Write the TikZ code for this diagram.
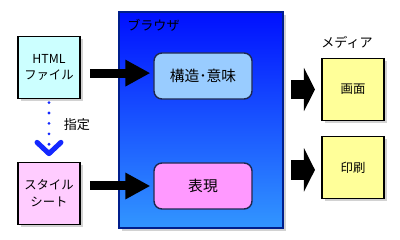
\documentclass[tikz,border=0pt]{standalone}
\usepackage{fontspec}
\setmainfont{Noto Sans CJK JP}
\usetikzlibrary{arrows.meta,shadows}
\definecolor{htmlFill}{RGB}{204,255,255}
\definecolor{cssFill}{RGB}{255,204,255}
\definecolor{mediaFill}{RGB}{255,255,153}
\definecolor{structFill}{RGB}{153,204,255}
\definecolor{viewFill}{RGB}{255,153,255}
\definecolor{panelTop}{RGB}{0,16,255}
\definecolor{panelBot}{RGB}{50,150,255}
\definecolor{panelEdge}{RGB}{0,30,140}
\definecolor{innerEdge}{RGB}{30,40,80}
\definecolor{dotBlue}{RGB}{20,40,255}

\begin{document}
\begin{tikzpicture}[x=0.025cm, y=-0.025cm,
    every node/.style={font=\fontsize{8.8}{12}\selectfont, text=black},
    srcbox/.style={draw=black, line width=1.4pt, rectangle,
                minimum width=1.55cm, minimum height=1.55cm,
                align=center, inner sep=1pt,
                drop shadow={shadow xshift=0.07cm, shadow yshift=-0.07cm, fill=black!35}},
    mediabox/.style={srcbox, fill=mediaFill},
    panel/.style={draw=panelEdge, line width=1.4pt, rectangle,
                minimum width=4.1cm, minimum height=5.4cm,
                top color=panelTop, bottom color=panelBot,
                drop shadow={shadow xshift=0.07cm, shadow yshift=-0.07cm, fill=black!35}},
    innerbox/.style={draw=innerEdge, line width=1pt, rectangle, rounded corners=0.2cm,
                minimum width=2.45cm, minimum height=1.15cm,
                font=\fontsize{10.5}{12}\selectfont},
    tag/.style={font=\fontsize{9.3}{11}\selectfont, inner sep=0pt},
    fatarrow/.style={line width=6.4pt, -{Triangle[length=17.7pt, width=17.7pt]},
                shorten <=6.4pt, shorten >=2.1pt},
    outarrow/.style={line width=14.2pt, -{Triangle[length=7.8pt, width=30.5pt]},
                shorten <=5pt, shorten >=4.3pt},
    dotarrow/.style={draw=dotBlue, line width=2.2pt, line cap=round,
                dash pattern=on 0pt off 7.4pt,
                -{Straight Barb[round, length=8pt, width=17pt, line width=3.6pt]},
                shorten <=2.2pt, shorten >=3.8pt}
  ]
    \useasboundingbox (0,0) rectangle (400,240);

    % Browser
    \node[panel] (browser) at (201,120) {};
    \node[tag, anchor=west] (browserlabel) at (127,25) {ブラウザ};
    \node[innerbox, fill=structFill] (struct) at (203,76) {構造･意味};
    \node[innerbox, fill=viewFill]   (view)   at (203,186) {表現};

    % Sources
    \node[srcbox, fill=htmlFill] (html) at (49,67.5) {HTML\\ファイル};
    \node[srcbox, fill=cssFill]  (css)  at (49,193.5) {スタイル\\シート};

    % Media
    \node[tag] (medialabel) at (347,42) {メディア};
    \node[mediabox] (screen) at (353,89.5)  {画面};
    \node[mediabox] (print)  at (353,167.5) {印刷};

    % Arrows
    \draw[fatarrow] ([yshift=-0.14cm]html.east) -- ([yshift=-0.14cm]html.east -| struct.west);
    \draw[fatarrow] (css.east |- view) -- (view.west);
    \draw[dotarrow] (html.south) -- node[tag, anchor=west, xshift=0.33cm, yshift=0.15cm] (spec) {指定} (css.north);
    \draw[outarrow] (browser.east |- screen) -- (screen.west);
    \draw[outarrow] ([yshift=-0.06cm]browser.east |- print) -- ([yshift=-0.06cm]print.west);
\end{tikzpicture}
\end{document}
